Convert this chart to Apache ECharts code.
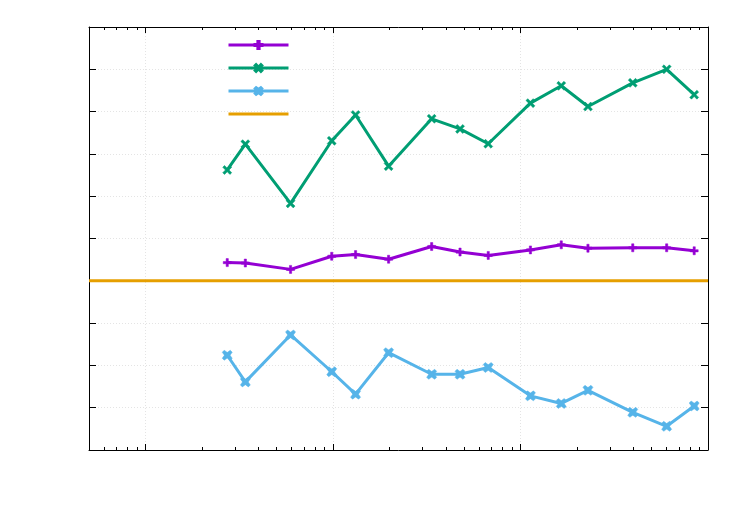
<!DOCTYPE html>
<html>
<head>
<meta charset="utf-8">
<script src="https://cdn.jsdelivr.net/npm/echarts@6/dist/echarts.min.js"></script>
<style>
  html, body { margin: 0; padding: 0; background: #fff; }
  #chart { width: 750px; height: 525px; }
</style>
</head>
<body>
<div id="chart"></div>
<script>
// x positions (log axis) shared by the three measured series
var xs = [2.73, 3.41, 5.94, 9.85, 13.2, 19.8, 33.6, 47.6, 67.3, 113, 165, 229, 397, 602, 844];
var purpleY = [0.43, 0.42, 0.27, 0.58, 0.62, 0.51, 0.81, 0.68, 0.60, 0.73, 0.85, 0.77, 0.78, 0.78, 0.71];
var greenY = [2.62, 3.23, 1.83, 3.31, 3.92, 2.71, 3.83, 3.59, 3.24, 4.20, 4.61, 4.12, 4.68, 5.00, 4.40];
var blueY = [-1.76, -2.39, -1.28, -2.15, -2.68, -1.70, -2.21, -2.21, -2.05, -2.72, -2.90, -2.59, -3.11, -3.44, -2.96];
var baseX = [0.5, 1000];
var baseY = [0, 0];
var seriesNames = ['a', 'b', 'c', 'd'];

function pairs(x, y) {
  var out = [];
  for (var i = 0; i < x.length; i++) out.push([x[i], y[i]]);
  return out;
}

var plusPath = 'path://M3.6,0L6.4,0L6.4,3.6L10,3.6L10,6.4L6.4,6.4L6.4,10L3.6,10L3.6,6.4L0,6.4L0,3.6L3.6,3.6Z';
var crossPath = 'path://M2,0L5,3L8,0L10,2L7,5L10,8L8,10L5,7L2,10L0,8L3,5L0,2Z';
var starPath = 'path://M2,0L5,2.2L8,0L10,2L7.8,5L10,8L8,10L5,7.8L2,10L0,8L2.2,5L0,2Z M2.5,2.5L7.5,2.5L7.5,7.5L2.5,7.5Z';

var chart = echarts.init(document.getElementById('chart'));

var gridLine = { show: true, lineStyle: { color: '#e4e4e4', type: [1, 2], width: 1 } };
var axLine = { show: true, onZero: false, lineStyle: { color: '#000', width: 1 } };

var option = {
  animation: false,
  backgroundColor: '#fff',
  grid: { left: 89, right: 42, top: 27, bottom: 75, containLabel: false },
  legend: {
    orient: 'vertical',
    left: 227,
    top: 40,
    padding: 0,
    itemWidth: 60,
    itemHeight: 10,
    itemGap: 13,
    lineStyle: { width: 3 },
    formatter: function () { return ''; },
    data: [seriesNames[0], seriesNames[1], seriesNames[2], { name: seriesNames[3], itemStyle: { opacity: 0 } }]
  },
  xAxis: [
    {
      type: 'log', min: 0.5, max: 1000, logBase: 10,
      axisLine: axLine,
      axisTick: { show: true, inside: true, length: 6, lineStyle: { color: '#000' } },
      minorTick: { show: true, splitNumber: 9, length: 3, lineStyle: { color: '#000' } },
      axisLabel: { show: false },
      splitLine: gridLine
    },
    {
      type: 'log', min: 0.5, max: 1000, logBase: 10, position: 'top',
      axisLine: axLine,
      axisTick: { show: true, inside: true, length: 6, lineStyle: { color: '#000' } },
      minorTick: { show: true, splitNumber: 9, length: 3, lineStyle: { color: '#000' } },
      axisLabel: { show: false },
      splitLine: { show: false }
    }
  ],
  yAxis: [
    {
      type: 'value', min: -4, max: 6, interval: 1,
      axisLine: axLine,
      axisTick: { show: true, inside: true, length: 7, lineStyle: { color: '#000' } },
      axisLabel: { show: false },
      splitLine: gridLine
    },
    {
      type: 'value', min: -4, max: 6, interval: 1, position: 'right',
      axisLine: axLine,
      axisTick: { show: true, inside: true, length: 7, lineStyle: { color: '#000' } },
      axisLabel: { show: false },
      splitLine: { show: false }
    }
  ],
  series: [
    {
      name: seriesNames[0], type: 'line', data: pairs(xs, purpleY),
      symbol: plusPath, symbolSize: 8, showAllSymbol: true,
      color: '#9400d3', lineStyle: { width: 3, color: '#9400d3' },
      itemStyle: { color: '#9400d3', borderColor: '#9400d3', borderWidth: 0.5 }, z: 3
    },
    {
      name: seriesNames[1], type: 'line', data: pairs(xs, greenY),
      symbol: crossPath, symbolSize: 9, showAllSymbol: true,
      color: '#009e73', lineStyle: { width: 3, color: '#009e73' },
      itemStyle: { color: '#009e73', borderColor: '#009e73', borderWidth: 0.5 }, z: 3
    },
    {
      name: seriesNames[2], type: 'line', data: pairs(xs, blueY),
      symbol: starPath, symbolSize: 10, showAllSymbol: true,
      color: '#56b4e9', lineStyle: { width: 3, color: '#56b4e9' },
      itemStyle: { color: '#56b4e9', borderColor: '#56b4e9', borderWidth: 0.5 }, z: 3
    },
    {
      name: seriesNames[3], type: 'line', data: pairs(baseX, baseY),
      symbol: 'circle', showSymbol: false, color: '#e69f00',
      lineStyle: { width: 3, color: '#e69f00' }, itemStyle: { color: '#e69f00' }, z: 2
    }
  ]
};

chart.setOption(option);
</script>
</body>
</html>
